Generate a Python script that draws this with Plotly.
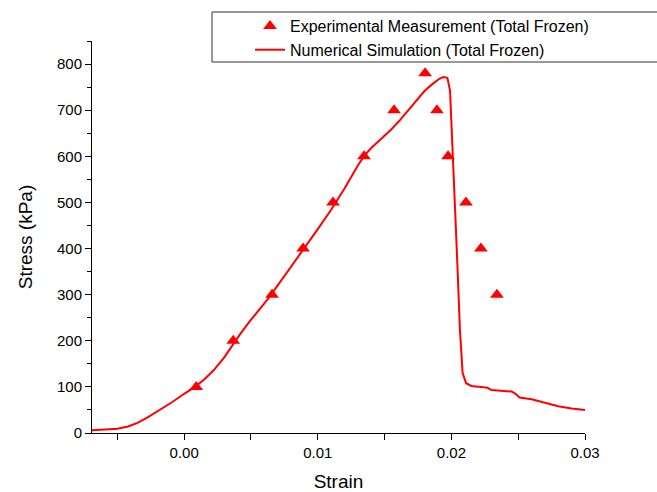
import plotly.graph_objects as go

# Experimental measurement points (strain, stress kPa)
exp_strain = [0.0009, 0.00367, 0.00658, 0.0089, 0.01114, 0.01346, 0.01571,
              0.01803, 0.01892, 0.01975, 0.02109, 0.02221, 0.02341]
exp_stress = [100, 200, 300, 400, 500, 600, 700, 780, 700, 600, 500, 400, 300]

# Numerical simulation curve
sim_strain = [-0.0069, -0.006, -0.005, -0.0042, -0.0035, -0.0028, -0.002, -0.001,
              0.0, 0.0008, 0.0015, 0.0022, 0.003, 0.0036, 0.0042, 0.0049, 0.0056,
              0.0063, 0.0070, 0.0080, 0.0090, 0.0100, 0.0110, 0.0120, 0.0130,
              0.0135, 0.0140, 0.0147, 0.0155, 0.0162, 0.0168, 0.0174, 0.0180,
              0.0186, 0.0191, 0.0194, 0.0197, 0.0199, 0.0201, 0.0202, 0.0204,
              0.02064, 0.02084, 0.0211, 0.0215, 0.0222, 0.0227, 0.0230, 0.0236,
              0.0245, 0.0248, 0.0251, 0.0260, 0.0270, 0.0280, 0.0290, 0.0300]
sim_stress = [6, 7, 9, 14, 22, 33, 47, 65,
              85, 100, 116, 136, 164, 190, 215, 242, 267,
              292, 320, 360, 402, 442, 484, 530, 580,
              602, 618, 636, 658, 680, 700, 722, 742,
              757, 768, 772, 770, 742, 590, 547, 400,
              223, 130, 108, 102, 100, 98, 93, 92,
              90, 85, 77, 73, 66, 58, 53, 50]

x_ticks = [0.0, 0.01, 0.02, 0.03]
x_ticklabels = ["0.00", "0.01", "0.02", "0.03"]
y_ticks = [0, 100, 200, 300, 400, 500, 600, 700, 800]

FONT = "Liberation Sans, Arial, sans-serif"

fig = go.Figure()
fig.add_trace(go.Scatter(
    x=exp_strain, y=exp_stress, mode="markers",
    name="Experimental Measurement (Total Frozen)",
    marker=dict(symbol="triangle-up", size=12, color="#FF0000"),
    cliponaxis=False,
))
fig.add_trace(go.Scatter(
    x=sim_strain, y=sim_stress, mode="lines",
    name="Numerical Simulation (Total Frozen)",
    line=dict(color="#FF0000", width=2),
))

W, H = 657, 492
L, R, T, B = 92, 72, 41, 59
pw, ph = W - L - R, H - T - B

def px2x(px):
    return (px - L) / pw

def px2y(py):
    return (H - B - py) / ph

fig.update_layout(
    width=W, height=H,
    margin=dict(l=L, r=R, t=T, b=B, autoexpand=False),
    paper_bgcolor="white", plot_bgcolor="white",
    font=dict(family=FONT, size=15, color="black"),
    showlegend=True,
    legend=dict(
        x=px2x(250), y=px2y(9), xanchor="left", yanchor="top",
        font=dict(family=FONT, size=16, color="black"),
        bgcolor="rgba(0,0,0,0)", borderwidth=0,
        tracegroupgap=0, itemwidth=30,
    ),
    shapes=[dict(
        type="rect", xref="paper", yref="paper",
        x0=px2x(212), x1=px2x(670), y0=px2y(62), y1=px2y(12),
        line=dict(color="#333333", width=1), fillcolor="rgba(0,0,0,0)",
        layer="below",
    )],
)

fig.update_xaxes(
    range=[-0.0069, 0.03], automargin=False,
    tickvals=x_ticks, ticktext=x_ticklabels,
    ticks="outside", ticklen=6, tickwidth=1, tickcolor="black",
    minor=dict(dtick=0.005, tick0=0.005, ticks="outside", ticklen=6,
               tickwidth=1, tickcolor="black", showgrid=False),
    showline=True, linecolor="black", linewidth=1,
    showgrid=False, zeroline=False,
    tickfont=dict(family=FONT, size=15),
    title=dict(text="Strain", font=dict(family=FONT, size=19), standoff=16),
)
fig.update_yaxes(
    range=[0, 850], automargin=False,
    tickvals=y_ticks,
    ticks="outside", ticklen=6, tickwidth=1, tickcolor="black",
    minor=dict(dtick=100, tick0=50, ticks="outside", ticklen=4,
               tickwidth=1, tickcolor="black", showgrid=False),
    showline=True, linecolor="black", linewidth=1,
    showgrid=False, zeroline=False,
    tickfont=dict(family=FONT, size=15),
    title=dict(text="Stress (kPa)", font=dict(family=FONT, size=19), standoff=19),
)

fig.write_html("out.html")
